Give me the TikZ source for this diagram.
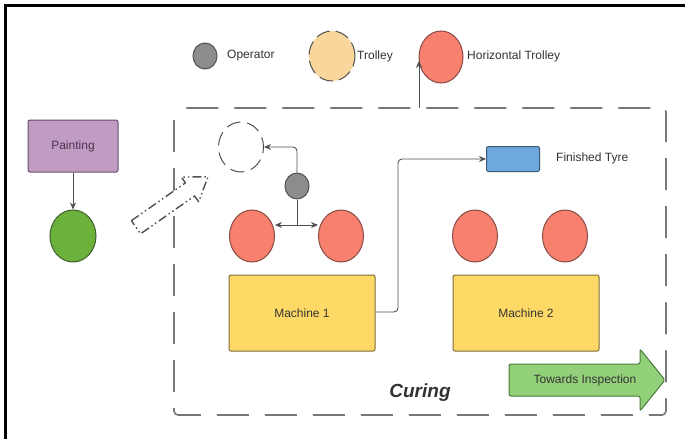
\documentclass[tikz,border=0pt]{standalone}
\usepackage{fontspec}
\setmainfont{Liberation Sans}
\usetikzlibrary{shapes.geometric,arrows.meta}
\definecolor{salmon}{HTML}{F8806E}
\definecolor{salmonb}{HTML}{8A4A44}
\definecolor{machy}{HTML}{FFD966}
\definecolor{machb}{HTML}{7F6F3A}
\definecolor{tyreb}{HTML}{6FA8DC}
\definecolor{tyrebd}{HTML}{3D5A7A}
\definecolor{paintp}{HTML}{C09CC3}
\definecolor{paintb}{HTML}{6B4F6E}
\definecolor{painttx}{HTML}{4E3350}
\definecolor{opg}{HTML}{8C8C8C}
\definecolor{opgb}{HTML}{505050}
\definecolor{trolf}{HTML}{FAD59C}
\definecolor{greenc}{HTML}{6CB23A}
\definecolor{greenb}{HTML}{3F5F30}
\definecolor{greena}{HTML}{93D07A}
\definecolor{greenab}{HTML}{4A7A3A}
\definecolor{dashg}{HTML}{777777}
\definecolor{txtg}{HTML}{333333}
\tikzset{
  every node/.style={font=\fontsize{12}{14}\selectfont, text=txtg},
  hcirc/.style={ellipse, inner sep=0pt, fill=salmon, draw=salmonb, line width=1pt, minimum width=45pt, minimum height=52pt},
  opcirc/.style={ellipse, inner sep=0pt, fill=opg, draw=opgb, line width=1pt, minimum width=24pt, minimum height=26pt},
  trcirc/.style={ellipse, inner sep=0pt, fill=trolf, draw=opgb, line width=1pt, dash pattern=on 14pt off 6pt, minimum width=46pt, minimum height=50pt},
  emptycirc/.style={ellipse, inner sep=0pt, draw=opgb, line width=1pt, dash pattern=on 14pt off 7pt, dash phase=4pt, minimum width=45pt, minimum height=50pt},
  machine/.style={rectangle, rounded corners=2pt, fill=machy, draw=machb, line width=1pt, minimum width=146pt, minimum height=76pt},
  legtext/.style={anchor=west, inner sep=0pt},
  conn/.style={draw=opgb, line width=0.9pt, rounded corners=4pt, -{Stealth[length=7pt,width=6pt]}},
}
\begin{document}
\begin{tikzpicture}[x=1pt,y=-1pt]
\useasboundingbox (0,0) rectangle (685,439);
\fill[white] (0,0) rectangle (685,439);
% outer frame (top and left)
\draw[black, line width=3pt] (4,5) -- (685,5);
\draw[black, line width=3pt] (5,4) -- (5,439);

% Curing dashed area
\draw[dashg, line width=1.6pt, dash pattern=on 32pt off 16pt, dash phase=-8pt, rounded corners=4pt] (174,108) rectangle (666,415);
\coordinate (htop) at (419,108);

% legend
\node[opcirc] (legop) at (205,56) {};
\node[legtext] (legoptx) at (227,56) {Operator};
\node[trcirc] (legtr) at (332,56) {};
\node[legtext] (legtrtx) at (357,56) {Trolley};
\node[hcirc, minimum width=44pt] (leght) at (441,57) {};
\node[legtext] (leghttx) at (467,56) {Horizontal Trolley};
\draw[draw=opgb, line width=0.9pt, -{Stealth[length=7pt,width=6pt]}] (htop) -- (htop |- leght.190);

% painting
\node[rectangle, rounded corners=2pt, fill=paintp, draw=paintb, line width=1pt, minimum width=90pt, minimum height=52pt, text=painttx] (paint) at (73,146) {Painting};
\node[ellipse, inner sep=0pt, fill=greenc, draw=greenb, line width=1pt, minimum width=46pt, minimum height=52pt] (green) at (73,236) {};
\draw[conn] (paint) -- (green);

% hollow dash-dot arrow
\begin{scope}[shift={(172,202)}, rotate=35]
\draw[opgb, fill=white, line width=1.4pt, line join=round, dash pattern=on 9pt off 3pt on 1.5pt off 3pt on 1.5pt off 3pt]
  (-44,-8) -- (22,-8) -- (22,-15) -- (44,0) -- (22,15) -- (22,8) -- (-44,8) -- cycle;
\end{scope}

% trolley placeholder and operator
\node[emptycirc] (slot) at (241,147) {};
\node[opcirc] (op) at (297,186) {};
\node[hcirc] (h1) at (252,236) {};
\node[hcirc] (h2) at (341,236) {};
\node[hcirc] (h3) at (475,236) {};
\node[hcirc] (h4) at (565,236) {};
\coordinate (split) at (297,225);
\draw[conn] (op.north) |- (slot.east);
\draw[draw=opgb, line width=0.9pt] (op.south) -- (split);
\draw[conn, rounded corners=0pt] (split) -- (split -| h1.east);
\draw[conn, rounded corners=0pt] (split) -- (split -| h2.west);

% machines
\node[machine] (m1) at (302,313) {Machine 1};
\node[machine] (m2) at (526,313) {Machine 2};

% finished tyre
\node[rectangle, rounded corners=2pt, fill=tyreb, draw=tyrebd, line width=1pt, minimum width=53pt, minimum height=25pt] (tyre) at (513,159) {};
\node[legtext] (tyretx) at (556,158) {Finished Tyre};
\coordinate (bend) at (398,312);
\draw[conn] (m1.east |- bend) -- (bend) |- (tyre.west);

% towards inspection
\draw[greenab, fill=greena, line width=1pt, rounded corners=2pt]
  (509,364) -- (640,364) -- (640,349) -- (665,380) -- (640,411) -- (640,396) -- (509,396) -- cycle;
\node (insptx) at (585,380) {Towards Inspection};

% curing label
\node[font=\fontsize{19}{22}\selectfont\bfseries\itshape] (curing) at (420,393) {Curing};
\end{tikzpicture}
\end{document}
